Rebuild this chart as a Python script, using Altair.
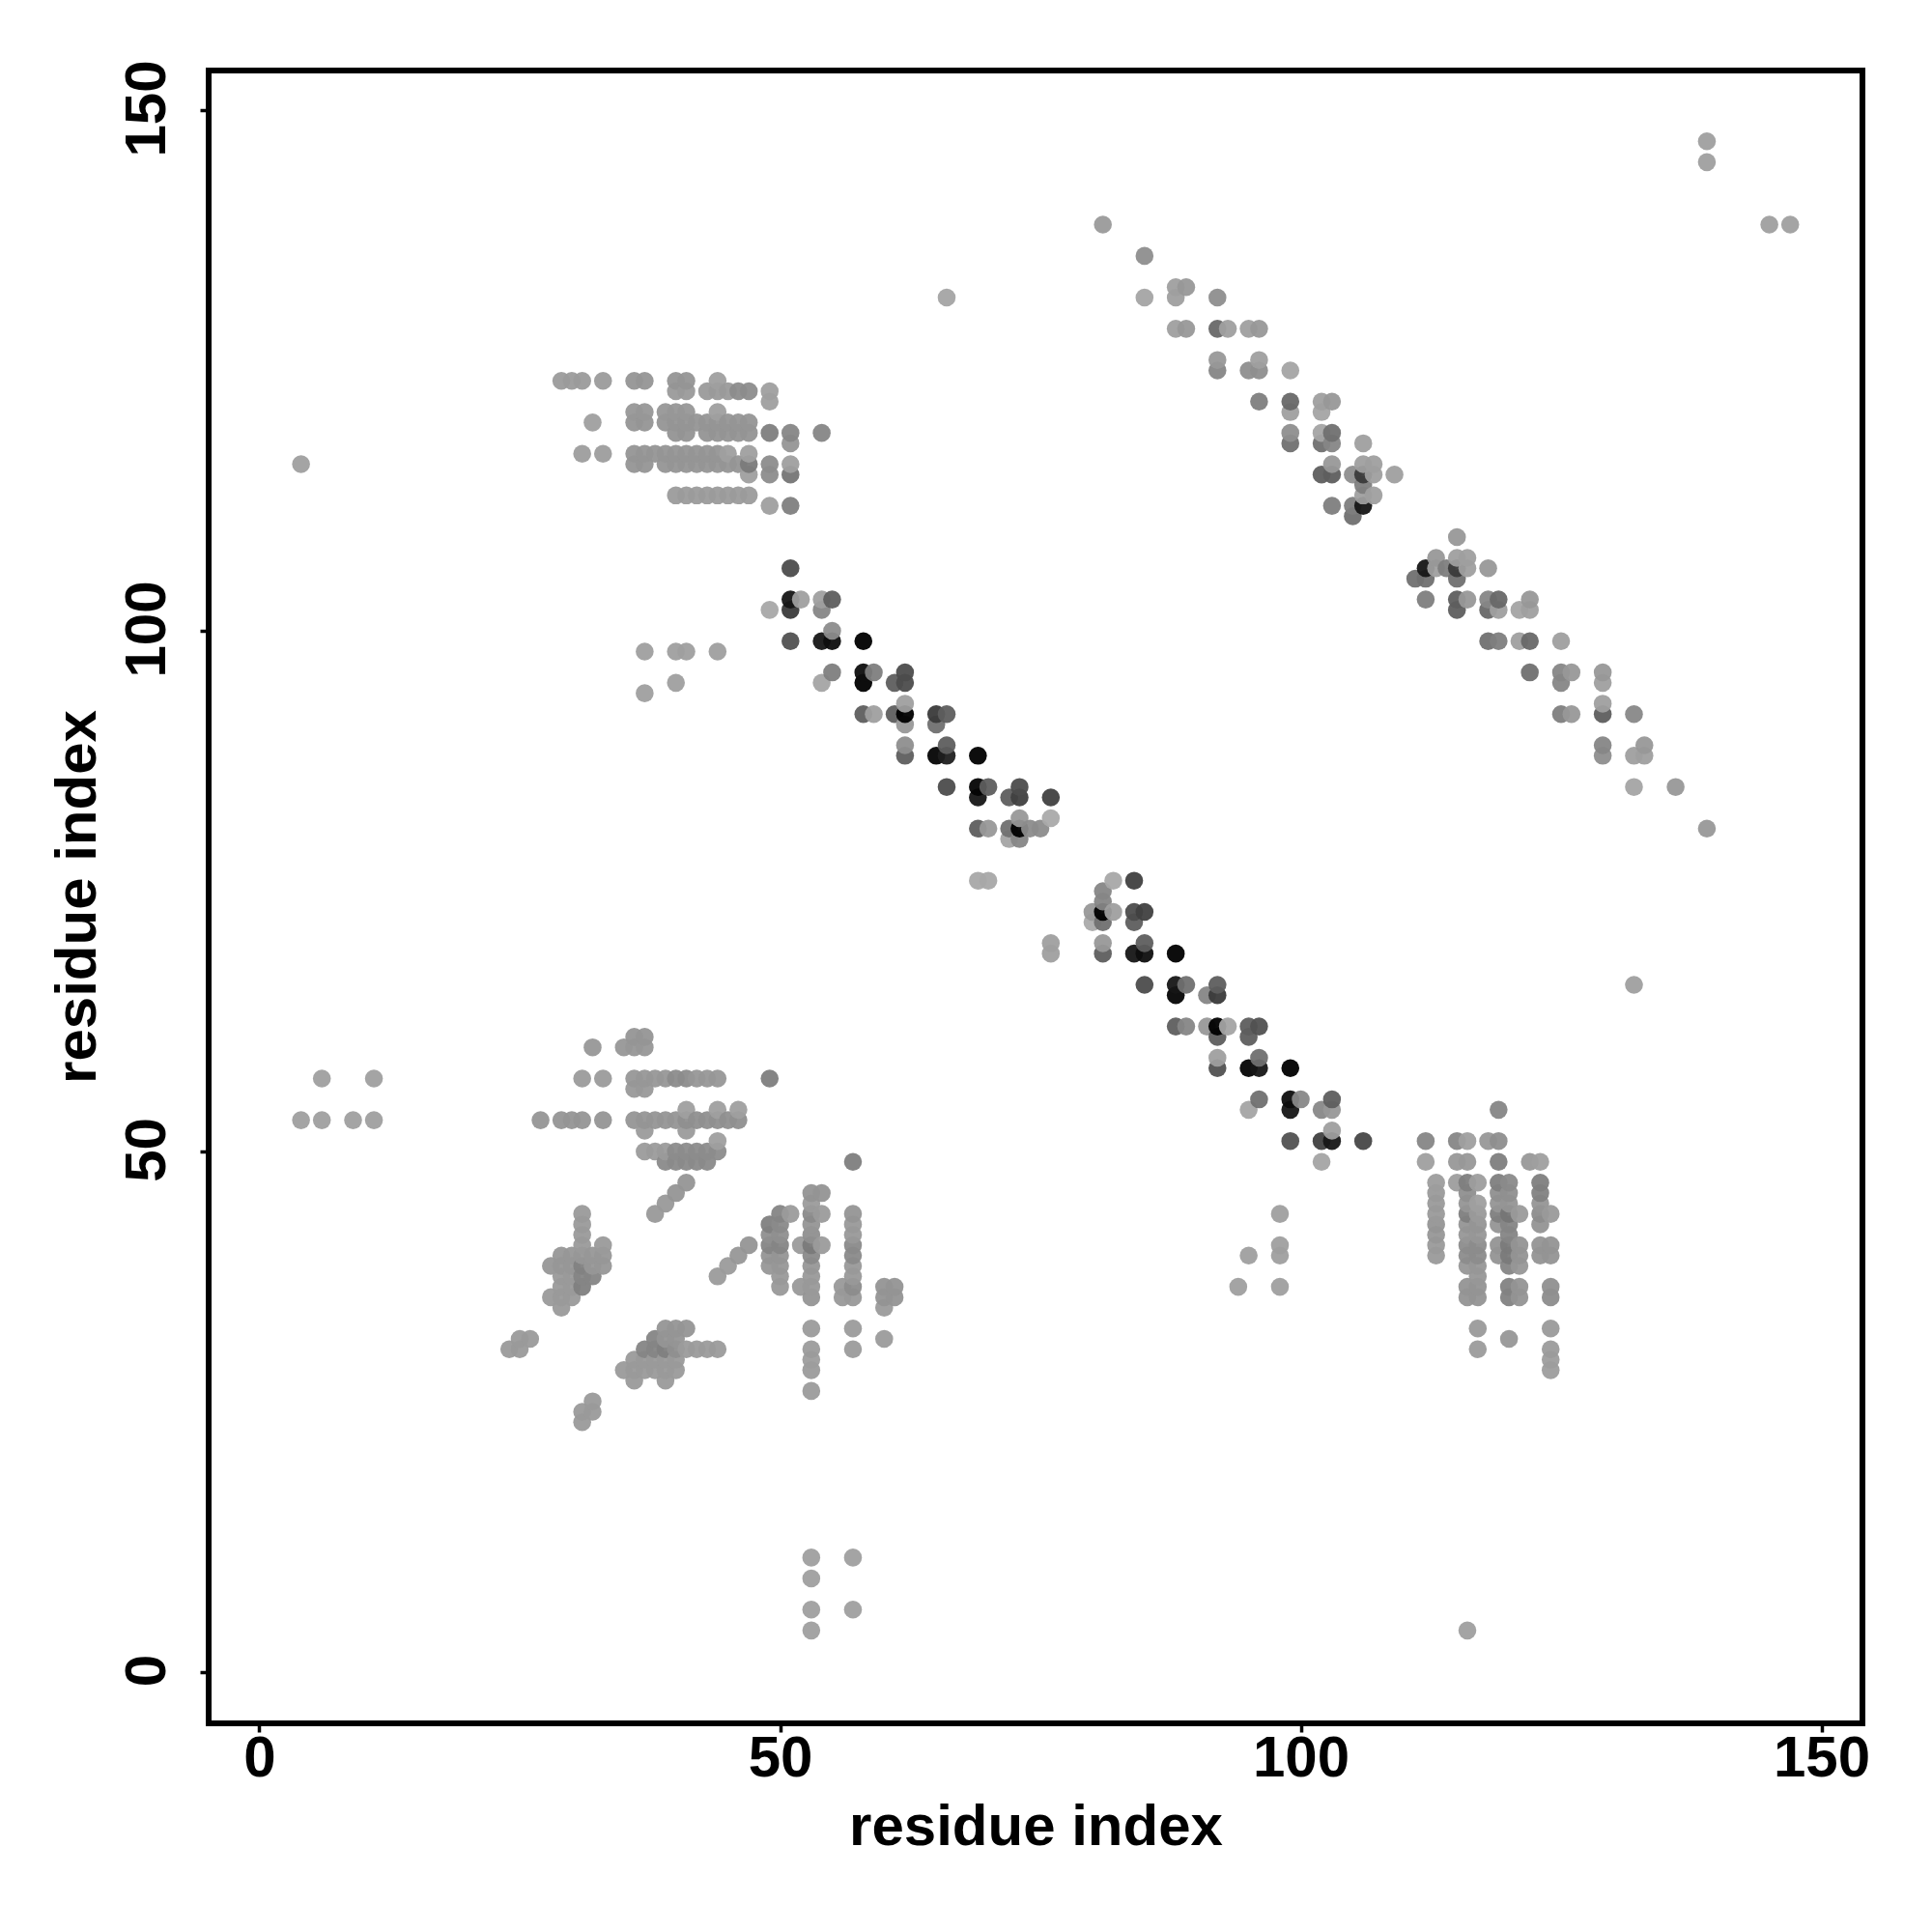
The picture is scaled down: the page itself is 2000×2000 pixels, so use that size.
import altair as alt
import pandas as pd

# ---- diagonal bands: (residue x, residue y, observed grey level 0-255)
BAND_A = [
 (51,106,85),(51,103,34),(52,103,160),(54,103,160),(55,103,102),(49,102,168),(51,102,68),(54,102,136),
 (51,99,90),(54,99,34),(55,99,26),(55,100,142),(58,99,12),
 (55,96,128),(54,95,165),(58,96,26),(59,96,128),(58,95,10),(62,96,85),(61,95,102),(62,95,85),
 (58,92,102),(59,92,160),(61,92,102),(62,92,0),(62,93,160),(62,91,153),(65,92,68),(66,92,102),(65,91,119),
 (62,89,144),(62,88,102),(65,88,17),(66,88,42),(66,89,102),(69,88,10),
 (66,85,85),(69,85,17),(70,85,102),(69,84,34),(72,84,102),(73,85,85),(73,84,74),(76,84,74),
 (69,81,102),(70,81,153),(72,81,119),(73,81,0),(73,82,153),(74,81,142),(75,81,142),(76,82,170),(72,80,165),(73,80,136),
 (69,76,168),(70,76,168),(76,70,160),(76,69,160),
]
BAND_B = [
 (82,76,168),(84,76,74),(81,75,136),(81,74,136),(80,73,153),(81,73,0),(82,73,160),(84,73,85),(85,73,74),
 (80,72,170),(81,72,119),(84,72,102),(81,70,153),(81,69,102),(84,69,34),(85,69,26),(85,70,102),(88,69,12),
 (85,66,85),(88,66,34),(89,66,119),(88,65,17),(91,65,136),(92,66,102),(92,65,68),
 (88,62,102),(89,62,136),(91,62,153),(92,62,0),(93,62,165),(92,61,102),(95,62,102),(96,62,90),(95,61,102),
 (92,59,160),(92,58,90),(95,58,17),(96,58,34),(96,59,119),(99,58,12),
 (96,55,119),(95,54,165),(99,55,26),(100,55,138),(99,54,34),(102,54,138),(103,55,102),(103,54,153),
 (99,51,90),(102,51,74),(103,51,34),(103,52,160),(106,51,80),(102,49,165),
]
BAND_C = [
 (85,136,144),(85,132,165),(88,133,160),(89,133,153),(88,132,160),(92,132,144),
 (88,129,160),(89,129,153),(92,129,112),(93,129,160),(95,129,160),(96,129,153),
 (92,126,153),(92,125,136),(95,125,144),(96,126,160),(96,125,144),(99,125,165),
 (96,122,128),(99,122,112),(99,121,160),(102,122,160),(103,122,153),(102,121,165),
 (99,119,144),(99,118,119),(102,119,165),(103,119,119),(102,118,119),(103,118,136),(106,118,160),
 (102,115,102),(103,115,102),(103,116,153),(105,115,144),(106,115,68),(106,116,160),(107,116,160),(107,115,160),
 (109,115,160),(106,114,128),(106,113,160),(107,113,160),(103,112,128),(105,112,128),(106,112,34),(105,111,119),
]
BAND_D = [
 (115,109,153),(113,107,153),(115,107,160),(116,107,160),(112,106,34),(113,106,160),(114,106,128),(115,106,68),
 (116,106,160),(118,106,153),(111,105,119),(112,105,119),(115,105,119),
 (112,103,128),(115,103,102),(116,103,153),(118,103,136),(119,103,112),(115,102,102),(118,102,112),(119,102,160),
 (121,102,165),(122,103,153),(122,102,160),
 (118,99,119),(119,99,128),(121,99,160),(122,99,112),(125,99,160),
 (122,96,119),(125,96,136),(126,96,153),(125,95,136),(129,96,153),(129,95,160),
 (125,92,128),(126,92,153),(129,93,160),(129,92,102),(132,92,138),
 (129,89,136),(129,88,144),(132,88,160),(133,89,153),(133,88,160),
 (132,85,165),(136,85,153),(139,81,153),
]
ISOLATED = [
 (139,147,160),(139,145,160),(145,139,160),(147,139,160),(81,139,155),(66,132,165),(4,116,160),
 (37,98,160),(40,98,160),(41,98,160),(44,98,160),(37,94,160),(40,95,160),
 (132,66,160),(95,40,160),(98,41,160),(98,40,160),(98,44,160),(94,37,160),(98,37,160),
 (4,53,160),(6,53,160),(9,53,160),(11,53,160),(6,57,160),(11,57,160),(49,57,128),(57,49,128),
 (53,11,160),(53,9,160),(53,6,160),(53,4,160),(57,11,160),(57,6,160),(116,4,160),
 (119,54,136),(112,51,136),(115,51,136),(116,51,160),(118,51,153),(119,51,144),
 (112,49,160),(115,49,153),(116,49,153),(119,49,128),(122,49,153),(123,49,160),
]

# ---- clusters of contacts: (residue y, residue xs, grey level)
UPPER_LEFT = [
 (124,[29,30,31,33],156),(124,[36,37,40,41],150),(124,[44],160),
 (123,[40,41,43,44,45],155),(123,[46,47],142),(123,[49],160),(122,[49],160),
 (121,[36,37,39,40,41],152),(121,[44],160),
 (120,[32],160),(120,[36,37,39,40,41,42,43,44,45,46,47],150),
 (119,[40,41,43,44,45,46,47],148),(119,[49],128),(119,[51],136),(119,[54],136),(118,[51],150),
 (117,[31,33],158),(117,[36,37,38,39,40,41,42,43,44],150),(117,[45,47],160),
 (116,[36,37,39,40,41,42,43,44,45,46],150),(116,[47],125),(116,[49],142),(116,[51],160),
 (115,[47],160),(115,[49],142),(115,[51],120),
 (113,[40,41,42,43,44,45,46,47],156),(112,[49],160),(112,[51],130),
]
LOWER_LEFT = [
 (61,[36,37],150),(60,[32,35,36,37],152),
 (57,[31,33],156),(57,[36,37,38,39],152),(57,[40,41],142),(57,[42,43,44],152),(56,[36,37],154),
 (54,[41,44,46],160),
 (53,[27,29,30,31,33,36,37,38,39,40],150),(53,[41,42,43,44,45,46],145),(52,[37,41],156),(51,[44],160),
 (50,[37,38,39],156),(50,[40,41,42,43,44],142),(49,[39,40,41,42,43],140),
 (47,[41],150),(46,[40],150),(45,[39],154),(44,[38],154),
]
LEFT_BLOB = [
 (44,[31],155),(43,[31],155),(42,[31],155),(41,[31,33],155),(40,[29,30,31,32,33],152),
 (39,[28,29,30,32,33],152),(39,[31],132),(38,[29,30],155),(38,[31,32],135),(37,[29,30],155),(37,[31],130),
 (36,[28,29,30],155),(35,[29],155),
 (32,[25,26],155),(31,[24,25],155),(26,[32],155),(25,[31,32],155),(24,[31],155),
]
LOWER_BLOB = [
 (33,[39,40,41],150),(32,[38],135),(32,[39,40],150),(31,[37,38],135),(31,[39],130),(31,[40],145),(31,[41,42,43,44],156),
 (30,[36,37,38,39,40],155),(29,[35,36,37,38,39,40],155),(28,[36,39],155),
]
MID_COLUMNS = [
 (46,[53,54],148),(45,[53],156),(44,[50],135),(44,[51,54],156),(44,[53],140),(43,[49],130),(43,[50],140),(43,[53],150),
 (42,[49,50,53],145),(41,[47],150),(41,[49,50],135),(41,[52,54],156),(41,[53],125),(40,[46],152),(40,[49,50],150),(40,[53],140),
 (39,[45],156),(39,[49,50,53],152),(38,[44],156),(38,[50,53],154),(37,[50,52,53],154),(36,[53],150),
 (33,[53],156),(31,[53],156),(30,[53],158),(29,[53],156),(27,[53],156),
 (44,[57],150),(43,[57],154),(42,[57],154),(41,[57],140),(40,[57],140),(39,[57],154),(38,[57],154),(37,[56],154),(37,[57],142),
 (36,[56,57],154),(33,[57],156),(31,[57],156),
 (37,[60,61],148),(36,[60,61],148),(35,[60],156),(32,[60],156),
]
RIGHT_COLUMNS = [
 (47,[113,115,117],158),(47,[116,119,123],128),(47,[120],140),(46,[113],155),(46,[116,119,120],145),(46,[123],132),
 (45,[113],155),(45,[116,119,120,123],150),(45,[117],160),
 (44,[113,117,121,124],155),(44,[116,119],128),(44,[120],120),(44,[123],142),
 (43,[113,116,117,119],150),(43,[120],135),(43,[123],148),(42,[113,116,117],152),(42,[120],135),
 (41,[113],155),(41,[116,117],142),(41,[119,121,123,124],148),(41,[120],125),
 (40,[113],155),(40,[116,117],142),(40,[119,121,123,124],148),(40,[120],125),
 (39,[116,117,121],152),(39,[120],135),(38,[117],152),
 (37,[116,117,121],148),(37,[120],132),(37,[124],145),(36,[116,117,121],148),(36,[120],132),(36,[124],142),
 (33,[117,124],155),(32,[120],152),(31,[117,124],156),(30,[124],158),(29,[124],158),
]

X_TICKS = [0, 50, 100, 150]
Y_TICKS = [0, 50, 100, 150]
X_DOMAIN = [-4.87, 153.94]
Y_DOMAIN = [-4.92, 153.8]
AXIS_TITLE = "residue index"
OPACITY = 0.95
FONT = "Liberation Sans"

triples = BAND_A + BAND_B + BAND_C + BAND_D + ISOLATED
for group in (UPPER_LEFT, LOWER_LEFT, LEFT_BLOB, LOWER_BLOB, MID_COLUMNS, RIGHT_COLUMNS):
    for y, xs, g in group:
        triples += [(x, y, g) for x in xs]

seen = {}
for x, y, g in triples:
    seen.setdefault((x, y), g)

def fill(g):
    c = max(0, min(255, round((g - 255 * (1 - OPACITY)) / OPACITY)))
    return f"#{c:02x}{c:02x}{c:02x}"

rows = [{"x": x, "y": y, "fill": fill(g + 4 if g >= 120 else g)} for (x, y), g in sorted(seen.items())]
df = pd.DataFrame(rows)

chart = (
    alt.Chart(df)
    .mark_circle(size=345, opacity=OPACITY)
    .encode(
        x=alt.X("x:Q", scale=alt.Scale(domain=X_DOMAIN, nice=False, zero=False),
                axis=alt.Axis(values=X_TICKS, title=AXIS_TITLE, grid=False, domain=False,
                              tickSize=9, tickWidth=3.5, tickColor="black",
                              labelFont=FONT, labelFontWeight="bold", labelFontSize=60, labelColor="black",
                              labelPadding=45, labelBaseline="alphabetic", labelFlush=False, labelOverlap=False,
                              titleFont=FONT, titleFontWeight="bold", titleFontSize=60, titleColor="black",
                              titleBaseline="alphabetic", titleX=856, titleY=125, titleAnchor="middle")),
        y=alt.Y("y:Q", scale=alt.Scale(domain=Y_DOMAIN, nice=False, zero=False),
                axis=alt.Axis(values=Y_TICKS, title=AXIS_TITLE, grid=False, domain=False,
                              tickSize=9, tickWidth=3.5, tickColor="black",
                              labelFont=FONT, labelFontWeight="bold", labelFontSize=60, labelColor="black",
                              labelAngle=270, labelAlign="center", labelBaseline="alphabetic",
                              labelPadding=37, labelOffset=-2, labelFlush=False, labelOverlap=False,
                              titleFont=FONT, titleFontWeight="bold", titleFontSize=60, titleColor="black",
                              titleAngle=270, titleBaseline="alphabetic", titleX=-118, titleY=855, titleAnchor="middle")),
        color=alt.Color("fill:N", scale=None, legend=None),
    )
    .properties(
        width=1712, height=1711,
        autosize=alt.AutoSizeParams(type="none"),
        padding={"left": 208, "top": 65, "right": 60, "bottom": 200},
        view=alt.ViewBackground(stroke="black", strokeWidth=6),
    )
    .configure(background="white")
)

chart.save("out.html", embed_options={"renderer": "svg", "actions": False})
